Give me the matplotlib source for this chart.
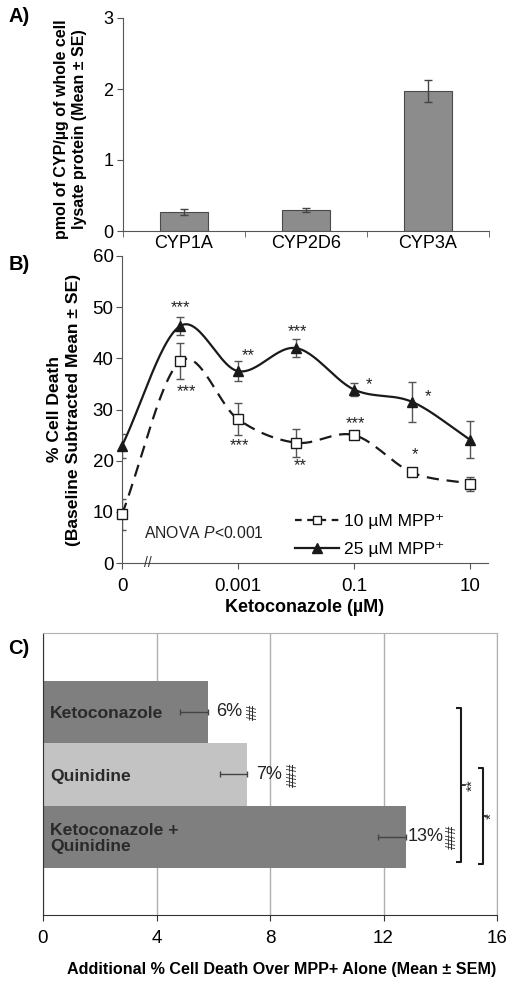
import numpy as np
import matplotlib

matplotlib.use("Agg")
import matplotlib.pyplot as plt
from matplotlib.lines import Line2D

plt.rcParams["font.family"] = ["Liberation Sans", "DejaVu Sans"]
plt.rcParams["mathtext.fontset"] = "custom"
plt.rcParams["mathtext.rm"] = "Liberation Sans"
plt.rcParams["mathtext.it"] = "Liberation Sans:italic"

# ---- panel A data
cyp_names = ["CYP1A", "CYP2D6", "CYP3A"]
cyp_pmol = [0.27, 0.30, 1.97]
cyp_se = [0.045, 0.03, 0.155]

# ---- panel B data (7 concentrations, equally spaced on the axis)
keto_tick_labels = ["0", "0.001", "0.1", "10"]
death_10 = [9.5, 39.4, 28.1, 23.5, 25.0, 17.7, 15.5]
se_10 = [3.1, 3.5, 3.1, 2.7, 0.5, 0.5, 1.4]
death_25 = [22.9, 46.3, 37.5, 42.0, 33.9, 31.5, 24.1]
se_25 = [2.4, 1.7, 2.0, 1.7, 1.3, 3.9, 3.6]
# (x position, y value, text)
stars_b = [
    (1.0, 50.5, "***"), (1.12, 34.1, "***"), (2.17, 41.2, "**"),
    (2.03, 23.6, "***"), (3.03, 45.9, "***"), (3.07, 19.7, "**"),
    (4.26, 35.5, "*"), (4.03, 27.8, "***"), (5.28, 33.1, "*"),
    (5.05, 21.8, "*"),
]

# ---- panel C data
treat_names = ["Ketoconazole", "Quinidine", "Ketoconazole +\nQuinidine"]
extra_death = [5.8, 7.2, 12.8]
extra_sem = [0.97, 0.97, 1.0]
pct_labels = ["6%", "7%", "13%"]
hash_marks = ["##", "###", "###"]

W, H = 514, 986
fig = plt.figure(figsize=(W / 100, H / 100), dpi=100)


def axes_px(left, top, right, bottom):
    return fig.add_axes([left / W, 1 - bottom / H, (right - left) / W, (bottom - top) / H])


def smooth(x, y, n=30):
    """Catmull-Rom curve through the points (Excel style smoothed line)."""
    x = np.asarray(x, float)
    y = np.asarray(y, float)
    px = np.concatenate([[2 * x[0] - x[1]], x, [2 * x[-1] - x[-2]]])
    py = np.concatenate([[2 * y[0] - y[1]], y, [2 * y[-1] - y[-2]]])
    t = np.linspace(0, 1, n)
    xs, ys = [], []
    for i in range(1, len(px) - 2):
        for arr, out in ((px, xs), (py, ys)):
            p0, p1, p2, p3 = arr[i - 1], arr[i], arr[i + 1], arr[i + 2]
            out.extend(0.5 * ((2 * p1) + (-p0 + p2) * t
                              + (2 * p0 - 5 * p1 + 4 * p2 - p3) * t ** 2
                              + (-p0 + 3 * p1 - 3 * p2 + p3) * t ** 3))
    return np.array(xs), np.array(ys)


spine_col = "#555555"

# ================= A =================
axa = axes_px(123, 18, 489, 231)
xa = np.arange(len(cyp_names))
axa.bar(xa, cyp_pmol, width=0.4, color="#8c8c8c", edgecolor="#4a4a4a", linewidth=0.8,
        yerr=cyp_se, error_kw=dict(ecolor="#444444", elinewidth=1.0, capsize=3, capthick=1.0))
axa.set_xlim(-0.5, 2.5)
axa.set_ylim(0, 3)
axa.set_yticks([0, 1, 2, 3])
axa.set_xticks(xa)
axa.set_xticklabels(cyp_names, fontsize=13)
axa.set_xticks([-0.5, 0.5, 1.5, 2.5], minor=True)
axa.tick_params(axis="x", which="major", length=0, pad=3)
axa.tick_params(axis="x", which="minor", length=4, direction="out", color=spine_col)
axa.tick_params(axis="y", labelsize=13, length=4, color=spine_col, pad=3)
for s in ("top", "right"):
    axa.spines[s].set_visible(False)
for s in ("left", "bottom"):
    axa.spines[s].set_color(spine_col)
axa.set_ylabel("pmol of CYP/\u00b5g of whole cell\nlysate protein (Mean \u00b1 SE)",
               fontsize=11.5, fontweight="bold", linespacing=1.25)
axa.yaxis.set_label_coords(-0.098, 0.48)
fig.text(19 / W, 1 - 17 / H, "A)", fontsize=14.5, fontweight="bold", ha="center", va="center")

# ================= B =================
axb = axes_px(122, 256, 488, 563)
xb = np.arange(len(death_10))
ebk = dict(fmt="none", ecolor="#555555", elinewidth=1.0, capsize=3, capthick=1.0, zorder=2)
axb.errorbar(xb, death_25, yerr=se_25, **ebk)
axb.errorbar(xb, death_10, yerr=se_10, **ebk)
sx, sy = smooth(xb, death_25)
axb.plot(sx, sy, color="#1a1a1a", linewidth=1.6, zorder=3)
sx, sy = smooth(xb, death_10)
axb.plot(sx, sy, color="#1a1a1a", linewidth=1.6, linestyle=(0, (5.5, 3.5)), zorder=3)
axb.plot(xb, death_25, linestyle="none", marker="^", markersize=7,
         color="#1a1a1a", zorder=4, clip_on=False)
axb.plot(xb, death_10, linestyle="none", marker="s", markersize=6.5,
         markerfacecolor="white", markeredgecolor="#1a1a1a", markeredgewidth=1.0,
         zorder=4, clip_on=False)
for x, y, t in stars_b:
    axb.text(x, y - 0.6, t, ha="center", va="center", fontsize=12, color="#222222")
axb.text(0.38, 5.9, "ANOVA $P$<0.001", ha="left", va="center", fontsize=11.3, color="#222222")

axb.set_xlim(0, 6.31)
axb.set_ylim(0, 60)
axb.set_xticks([0, 2, 4, 6])
axb.set_xticklabels(keto_tick_labels, fontsize=13.5)
axb.set_yticks(range(0, 61, 10))
axb.tick_params(axis="y", labelsize=13.5, length=4, color=spine_col, pad=2)
axb.tick_params(axis="x", length=4, color=spine_col, pad=7)
for s in ("top", "right"):
    axb.spines[s].set_visible(False)
for s in ("left", "bottom"):
    axb.spines[s].set_color(spine_col)
axb.text(0.45, 0, "//", ha="center", va="center", fontsize=10, color="#333333",
         clip_on=False)
axb.set_ylabel("% Cell Death\n(Baseline Subtracted Mean \u00b1 SE)",
               fontsize=12.6, fontweight="bold", linespacing=1.3)
axb.yaxis.set_label_coords(-0.112, 0.5)
axb.set_xlabel("Ketoconazole (\u00b5M)", fontsize=13, fontweight="bold", labelpad=3)

handles = [
    Line2D([], [], color="#1a1a1a", linewidth=1.6, linestyle=(0, (3, 2.5)), marker="s",
           markersize=6, markerfacecolor="white", markeredgewidth=1.0),
    Line2D([], [], color="#1a1a1a", linewidth=1.6, marker="^", markersize=6.5),
]
axb.legend(handles, ["10 \u00b5M MPP\u207a", "25 \u00b5M MPP\u207a"], loc="lower left",
           bbox_to_anchor=(0.435, -0.025), frameon=False, fontsize=12.6, handlelength=2.5,
           handletextpad=0.3, labelspacing=0.7, borderpad=0.3)
fig.text(19 / W, 1 - 265 / H, "B)", fontsize=14.5, fontweight="bold", ha="center", va="center")

# ================= C =================
axc = axes_px(43, 633, 497, 915)
yc = np.arange(len(treat_names))
bar_cols = ["#7f7f7f", "#c3c3c3", "#7f7f7f"]
axc.barh(yc, extra_death, height=1.0, color=bar_cols, zorder=2,
         xerr=[extra_sem, [0] * len(extra_sem)],
         error_kw=dict(ecolor="#444444", elinewidth=1.0, capsize=2, capthick=1.0))
for i in range(len(treat_names)):
    axc.text(0.25, yc[i] + 0.03, treat_names[i], ha="left", va="center",
             fontsize=12.6, fontweight="bold", color="#2a2a2a", zorder=3, linespacing=1.1)
    axc.text(extra_death[i] + (0.05 if i == 2 else 0.3), yc[i], pct_labels[i],
             ha="left", va="center", fontsize=13, color="#222222", zorder=3)
    axc.text(extra_death[i] + (1.62 if i == 2 else 1.6), yc[i], hash_marks[i],
             ha="center", va="center", rotation=90, fontsize=10.5, color="#222222", zorder=3)


# significance brackets
def bracket(x, y0, y1, label, off, tick=0.18):
    axc.plot([x - tick, x, x, x - tick], [y0, y0, y1, y1], color="#1a1a1a",
             linewidth=1.5, solid_capstyle="butt", clip_on=False, zorder=3)
    ym = (y0 + y1) / 2
    axc.plot([x, x + 0.12], [ym, ym], color="#1a1a1a", linewidth=1.2, clip_on=False)
    axc.text(x + off, ym, label, ha="center", va="center", rotation=90,
             fontsize=11, color="#222222", clip_on=False)


bracket(14.74, -0.06, 2.41, "**", 0.4)
bracket(15.5, 0.9, 2.43, "*", 0.32)

axc.set_xlim(0, 16)
axc.set_ylim(3.25, -1.26)
axc.set_yticks([])
axc.set_xticks([0, 4, 8, 12, 16])
axc.tick_params(axis="x", labelsize=13.5, length=4, color="#333333", pad=7)
axc.grid(axis="x", color="#b0b0b0", linewidth=1.0, zorder=0)
axc.set_axisbelow(True)
axc.spines["top"].set_color("#b0b0b0")
axc.spines["right"].set_color("#b0b0b0")
axc.spines["left"].set_color("#333333")
axc.spines["bottom"].set_color("#333333")
axc.set_xlabel("Additional % Cell Death Over MPP+ Alone (Mean \u00b1 SEM)",
               fontsize=11.6, fontweight="bold")
axc.xaxis.set_label_coords(0.526, -0.168)
fig.text(19 / W, 1 - 648 / H, "C)", fontsize=14.5, fontweight="bold", ha="center", va="center")

fig.savefig("out.png", dpi=100)
